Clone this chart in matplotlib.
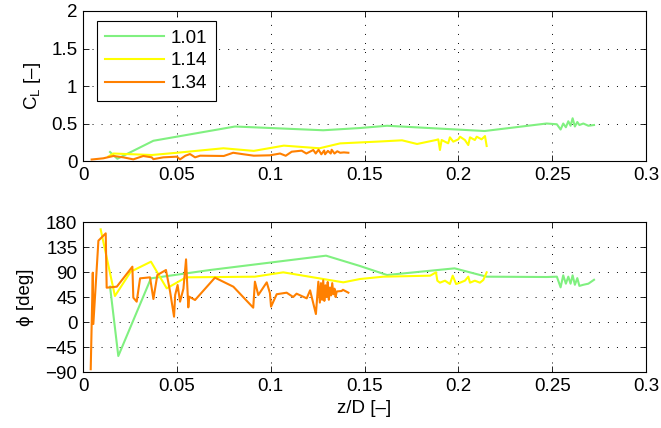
import numpy as np
import matplotlib
matplotlib.use('Agg')
import matplotlib.pyplot as plt

plt.rcParams['font.family'] = ['Liberation Sans', 'DejaVu Sans']
plt.rcParams['mathtext.fontset'] = 'custom'
plt.rcParams['mathtext.rm'] = 'Liberation Sans'
plt.rcParams['mathtext.it'] = 'Liberation Sans:italic'

# --- dados: coeficiente de sustentação C_L vs z/D ---
labels = ['1.01', '1.14', '1.34']
colors = ['#80f080', '#ffff00', '#ff8000']

cl_z_101 = [0.0144, 0.0183, 0.0375, 0.081, 0.128, 0.1476, 0.162, 0.214, 0.247,
            0.2525, 0.2545, 0.2559, 0.2573, 0.2586, 0.2598, 0.2609, 0.2621,
            0.2634, 0.2645, 0.2666, 0.2693, 0.2723]
cl_101 = [0.12, 0.03, 0.27, 0.46, 0.41, 0.44, 0.47, 0.40, 0.50,
          0.49, 0.42, 0.50, 0.45, 0.53, 0.47, 0.57, 0.46, 0.52, 0.48, 0.50, 0.47, 0.48]

cl_z_114 = [0.0135, 0.0162, 0.0366, 0.050, 0.0748, 0.091, 0.107, 0.126, 0.137,
            0.158, 0.170, 0.178, 0.1881, 0.1893, 0.1902, 0.1911, 0.1946, 0.1955,
            0.1973, 0.2, 0.2009, 0.2035, 0.2053, 0.2062, 0.2088, 0.2098, 0.2124,
            0.2142, 0.2151]
cl_114 = [0.06, 0.10, 0.08, 0.11, 0.17, 0.135, 0.205, 0.17, 0.235,
          0.26, 0.276, 0.227, 0.28, 0.289, 0.147, 0.28, 0.236, 0.316,
          0.258, 0.289, 0.324, 0.28, 0.213, 0.316, 0.28, 0.324, 0.289,
          0.333, 0.20]

cl_z_134 = [0.0046, 0.0108, 0.0162, 0.0215, 0.0268, 0.0321, 0.0366, 0.0375, 0.0428,
            0.050, 0.0517, 0.0545, 0.057, 0.0597, 0.0624, 0.075, 0.080, 0.0855,
            0.091, 0.0996, 0.105, 0.108, 0.1112, 0.1165, 0.119, 0.1227, 0.124,
            0.1255, 0.127, 0.1285, 0.129, 0.1305, 0.132, 0.1325, 0.134, 0.1355,
            0.137, 0.139, 0.1414]
cl_134 = [0.02, 0.036, 0.067, 0.049, 0.022, 0.067, 0.049, 0.025, 0.049,
          0.058, 0.022, 0.07, 0.093, 0.049, 0.071, 0.067, 0.11, 0.09,
          0.071, 0.076, 0.10, 0.07, 0.124, 0.138, 0.10, 0.147, 0.10,
          0.15, 0.09, 0.14, 0.09, 0.135, 0.10, 0.15, 0.10, 0.13,
          0.11, 0.115, 0.11]

# --- dados: ângulo de fase phi vs z/D ---
ph_z_101 = [0.0144, 0.0188, 0.0362, 0.0677, 0.1295, 0.1476, 0.162, 0.198, 0.215,
            0.247, 0.2525, 0.2545, 0.2559, 0.2573, 0.2586, 0.2598, 0.2609,
            0.2621, 0.2634, 0.2645, 0.2666, 0.2693, 0.2723]
ph_101 = [63.6, -61.2, 78.6, 93.6, 119.4, 100.8, 84.6, 96.6, 81.6,
          81.0, 81.6, 62.4, 84.0, 69.0, 81.6, 69.0, 84.0,
          67.0, 79.0, 65.0, 67.0, 69.0, 76.0]

ph_z_114 = [0.0094, 0.0170, 0.0254, 0.0362, 0.0446, 0.0549, 0.0916, 0.1067,
            0.1387, 0.1476, 0.160, 0.185, 0.1881, 0.1888, 0.1902, 0.1929,
            0.1955, 0.197, 0.1988, 0.2009, 0.2035, 0.2053, 0.2062, 0.2088,
            0.2115, 0.2133, 0.2151]
ph_114 = [166.8, 46.8, 90.6, 108.6, 60.6, 80.4, 81.6, 89.4,
          71.4, 77.4, 81.6, 83.4, 89.4, 74.4, 70.8, 74.4,
          68.4, 83.4, 68.4, 70.8, 74.4, 81.6, 70.8, 74.4,
          70.8, 75.6, 89.4]

ph_z_134 = [0.0041, 0.0052, 0.0055, 0.0082, 0.0121, 0.0126, 0.018, 0.0263, 0.0268,
            0.0286, 0.0304, 0.0357, 0.0375, 0.0396, 0.0442, 0.0464, 0.0485,
            0.0491, 0.0504, 0.0517, 0.0535, 0.0549, 0.0561, 0.0566, 0.0597,
            0.0703, 0.0801, 0.0907, 0.0916, 0.0934, 0.0979, 0.0996, 0.1002,
            0.1032, 0.1085, 0.112, 0.1138, 0.1192, 0.121, 0.1241, 0.1254,
            0.1262, 0.1268, 0.1274, 0.128, 0.1286, 0.1292, 0.1298, 0.1304,
            0.131, 0.1316, 0.1322, 0.1328, 0.1334, 0.134, 0.1346, 0.1352,
            0.1378, 0.1385, 0.1414]
ph_134 = [-85.0, 88.8, -3.6, 146.4, 159.6, 61.8, 63.6, 99.6, 43.8,
          36.6, 78.6, 80.4, 41.4, 84.6, 93.6, 54.6, 9.6,
          48.6, 66.6, 36.6, 60.0, 112.8, 26.4, 45.6, 39.6,
          79.8, 63.6, 25.8, 72.6, 48.6, 71.4, 52.0, 27.6,
          50.0, 52.8, 45.0, 51.0, 42.6, 57.0, 14.4, 72.6,
          35.0, 70.0, 40.0, 75.0, 38.0, 66.0, 45.0, 72.0,
          40.0, 62.0, 48.0, 70.0, 50.0, 60.0, 45.0, 55.0,
          55.8, 58.0, 52.8]

cl_series = [(cl_z_101, cl_101), (cl_z_114, cl_114), (cl_z_134, cl_134)]
ph_series = [(ph_z_101, ph_101), (ph_z_114, ph_114), (ph_z_134, ph_134)]

fig = plt.figure(figsize=(6.61, 4.28), dpi=100)
ax1 = fig.add_axes([0.1256, 0.6238, 0.8517, 0.3505])
ax2 = fig.add_axes([0.1256, 0.1308, 0.8517, 0.3505])

for (z, v), c, lab in zip(cl_series, colors, labels):
    ax1.plot(z, v, color=c, lw=1.5, label=lab)
for (z, v), c in zip(ph_series, colors):
    ax2.plot(z, v, color=c, lw=1.5)

fs = 13.5
for ax in (ax1, ax2):
    ax.set_xlim(0, 0.3)
    ax.set_xticks([0, 0.05, 0.1, 0.15, 0.2, 0.25, 0.3])
    ax.set_xticklabels(['0', '0.05', '0.1', '0.15', '0.2', '0.25', '0.3'])
    ax.tick_params(direction='in', top=True, right=True, length=4,
                   width=0.6, labelsize=fs, pad=4)
    ax.grid(True, color='k', lw=0.7, dashes=(1, 8.3))
    for s in ax.spines.values():
        s.set_linewidth(0.8)

ax1.set_ylim(0, 2)
ax1.set_yticks([0, 0.5, 1, 1.5, 2])
ax1.set_yticklabels(['0', '0.5', '1', '1.5', '2'])
ax1.set_ylabel('C$_\\mathregular{L}$ [\u2013]', fontsize=fs, labelpad=6)

ax2.set_ylim(-90, 180)
ax2.set_yticks([-90, -45, 0, 45, 90, 135, 180])
ax2.set_ylabel('\u03d5 [deg]', fontsize=fs, labelpad=8)
ax2.set_xlabel('z/D [\u2013]', fontsize=fs, labelpad=4)

leg = ax1.legend(loc='upper left', bbox_to_anchor=(0.0249, 0.933),
                 borderaxespad=0, fontsize=fs, fancybox=False, framealpha=1,
                 edgecolor='k', handlelength=3.1, handletextpad=0.4,
                 labelspacing=0.3, borderpad=0.45)
leg.get_frame().set_linewidth(0.8)

fig.savefig('out.png', dpi=100)
